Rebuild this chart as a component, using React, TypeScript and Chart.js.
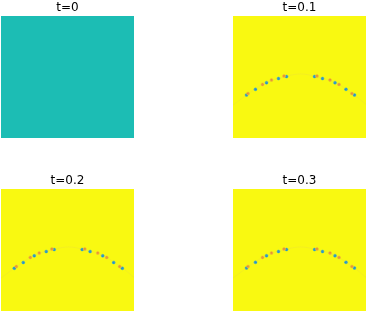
import React, { useEffect, useRef } from "react";
import { Chart, registerables } from "chart.js";

Chart.register(...registerables);

// panel titles and uniform field colour of each panel
const titles = ["t=0", "t=0.1", "t=0.2", "t=0.3"];
const fieldColors = ["#1cbdb4", "#f9f911", "#f9f911", "#f9f911"];

// blue (low) spots along the wave front, per panel (t=0 has none)
const blueX = [
  [],
  [-0.797, -0.662, -0.496, -0.316, -0.195, 0.226, 0.346, 0.534, 0.699, 0.827],
  [-0.8, -0.665, -0.5, -0.32, -0.2, 0.22, 0.34, 0.53, 0.695, 0.825],
  [-0.797, -0.662, -0.496, -0.316, -0.195, 0.226, 0.346, 0.534, 0.699, 0.827],
];
const blueY = [
  [],
  [-0.295, -0.202, -0.093, -0.025, 0.008, 0.008, -0.025, -0.093, -0.202, -0.295],
  [-0.3, -0.205, -0.095, -0.025, 0.008, 0.008, -0.025, -0.095, -0.205, -0.3],
  [-0.295, -0.202, -0.093, -0.025, 0.008, 0.008, -0.025, -0.093, -0.202, -0.295],
];
// orange (high) spots along the wave front
const orangeX = [
  [],
  [-0.774, -0.556, -0.421, -0.233, 0.263, 0.459, 0.594, 0.789],
  [-0.77, -0.56, -0.425, -0.235, 0.26, 0.455, 0.59, 0.785],
  [-0.774, -0.556, -0.421, -0.233, 0.263, 0.459, 0.594, 0.789],
];
const orangeY = [
  [],
  [-0.27, -0.121, -0.049, 0.016, 0.016, -0.049, -0.121, -0.27],
  [-0.27, -0.121, -0.049, 0.016, 0.016, -0.049, -0.121, -0.27],
  [-0.27, -0.121, -0.049, 0.016, 0.016, -0.049, -0.121, -0.27],
];
// faint trace of the front
const traceX = [-1, -0.8, -0.5, -0.2, 0.015, 0.23, 0.53, 0.83, 1];
const traceY = [-0.46, -0.3, -0.09, 0.01, 0.05, 0.01, -0.09, -0.3, -0.45];

const panelPos = [
  { left: 0, top: 0 },
  { left: 232, top: 0 },
  { left: 0, top: 173 },
  { left: 232, top: 173 },
];

const fieldPlugin = {
  id: "field",
  beforeDatasetsDraw(chart: any, _a: any, opts: any) {
    const { ctx, chartArea } = chart;
    ctx.save();
    ctx.fillStyle = opts.color;
    ctx.fillRect(chartArea.left, chartArea.top, chartArea.right - chartArea.left, chartArea.bottom - chartArea.top);
    ctx.restore();
  },
};

function Panel({ idx }: { idx: number }) {
  const ref = useRef<HTMLCanvasElement>(null);
  useEffect(() => {
    if (!ref.current) return;
    const datasets: any[] = [];
    if (blueX[idx].length) {
      datasets.push({
        type: "line",
        data: traceX.map((x, i) => ({ x, y: traceY[i] })),
        borderColor: "rgba(225,200,90,0.22)",
        borderWidth: 1,
        pointRadius: 0,
        tension: 0.4,
        fill: false,
      });
      datasets.push({
        type: "scatter",
        data: orangeX[idx].map((x, i) => ({ x, y: orangeY[idx][i] })),
        backgroundColor: "rgba(232,140,50,0.95)",
        borderColor: "rgba(245,185,60,0.7)",
        borderWidth: 0.7,
        pointRadius: 1.5,
      });
      datasets.push({
        type: "scatter",
        data: blueX[idx].map((x, i) => ({ x, y: blueY[idx][i] })),
        backgroundColor: "#1c8ad6",
        borderColor: "rgba(50,190,200,0.7)",
        borderWidth: 0.6,
        pointRadius: 1.5,
      });
    }
    const chart = new Chart(ref.current, {
      type: "scatter",
      data: { datasets },
      plugins: [fieldPlugin],
      options: {
        animation: false,
        responsive: false,
        devicePixelRatio: 1,
        layout: { autoPadding: false, padding: { left: 1, right: 2, top: 0, bottom: 2 } },
        scales: {
          x: { type: "linear", min: -1, max: 1, display: false },
          y: { type: "linear", min: -1, max: 1, display: false },
        },
        plugins: {
          legend: { display: false },
          tooltip: { enabled: false },
          title: {
            display: true,
            text: titles[idx],
            color: "#000",
            font: { family: "DejaVu Sans", size: 12, weight: "normal" },
            padding: { top: 0.6, bottom: 1 },
          },
          field: { color: fieldColors[idx] },
        } as any,
      },
    });
    return () => chart.destroy();
  }, [idx]);
  const p = panelPos[idx];
  return (
    <canvas
      ref={ref}
      width={136}
      height={140}
      style={{ position: "absolute", left: p.left, top: p.top, width: 136, height: 140 }}
    />
  );
}

export default function App() {
  return (
    <div style={{ position: "fixed", left: 0, top: 0, width: 370, height: 313, background: "#fff", overflow: "hidden" }}>
      {titles.map((_, i) => (
        <Panel key={i} idx={i} />
      ))}
    </div>
  );
}
